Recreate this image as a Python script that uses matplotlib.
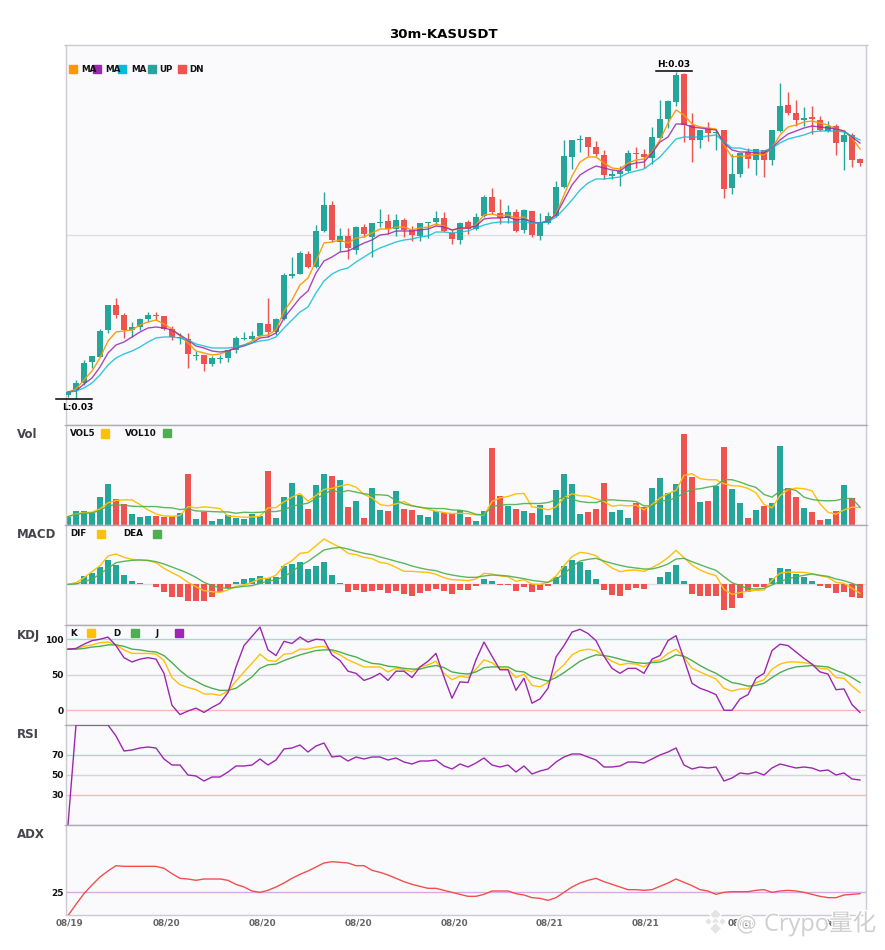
# 30m KASUSDT candles with Vol, MACD, KDJ, RSI and ADX panels
import matplotlib
matplotlib.use("Agg")
import matplotlib.pyplot as plt
import matplotlib.patheffects as pe
import numpy as np

# prices are in 1e-5 USDT
opens = [2840,2845,2852,2873,2878,2905,2930,2920,2905,2908,2916,2920,2919,2906,2897,2896,2879,2880,2871,2876,
         2877,2885,2896,2896,2899,2911,2903,2916,2959,2961,2981,2968,3004,3030,2993,2999,2985,3008,2998,3012,
         3014,3006,3015,3005,2999,3012,3013,3017,3002,2995,3013,3006,3019,3038,3022,3017,3023,3005,3024,2999,
         3012,3019,3048,3078,3095,3098,3088,3080,3059,3061,3064,3082,3081,3077,3097,3116,3133,3161,3110,3095,
         3106,3102,3105,3047,3061,3083,3075,3085,3075,3104,3130,3122,3115,3118,3115,3104,3109,3093,3100,3076]
closes = [2843,2852,2872,2879,2904,2930,2920,2905,2908,2916,2920,2919,2906,2898,2898,2881,2880,2871,2877,2877,
          2885,2897,2897,2899,2912,2903,2916,2960,2961,2982,2968,3004,3030,2995,2999,2987,3008,3001,3012,3013,
          3006,3015,3005,3000,3012,3013,3017,3004,2996,3012,3006,3018,3038,3023,3017,3023,3004,3025,3000,3012,
          3019,3048,3079,3095,3096,3088,3081,3060,3061,3064,3082,3081,3078,3098,3116,3134,3160,3110,3095,3105,
          3102,3103,3046,3061,3082,3076,3086,3075,3105,3129,3122,3115,3117,3116,3105,3109,3092,3100,3075,3072]
highs = [2844,2855,2875,2879,2906,2930,2937,2922,2913,2917,2923,2923,2919,2909,2902,2902,2884,2880,2879,2880,
         2885,2899,2903,2904,2912,2937,2917,2962,2978,2984,2984,3010,3043,3034,3007,3007,3009,3011,3012,3026,
         3021,3021,3017,3009,3012,3013,3024,3023,3005,3013,3015,3022,3040,3047,3036,3030,3026,3026,3024,3022,
         3023,3054,3095,3095,3100,3098,3094,3085,3065,3069,3085,3088,3086,3108,3135,3135,3163,3162,3122,3105,
         3113,3106,3105,3081,3082,3087,3086,3085,3105,3152,3143,3135,3128,3129,3119,3114,3111,3105,3102,3077]
lows = [2838,2837,2850,2867,2878,2902,2917,2897,2898,2905,2913,2915,2905,2895,2891,2867,2875,2864,2869,2872,
        2873,2882,2895,2895,2899,2898,2900,2915,2957,2961,2967,2967,3003,2993,2984,2976,2981,2998,2978,3008,
        3001,2999,2998,2994,2994,2997,3010,3003,2991,2991,3001,3005,3018,3021,3011,3012,3003,3002,2998,2995,
        3011,3018,3047,3066,3083,3079,3079,3056,3056,3049,3063,3067,3067,3071,3096,3107,3129,3093,3073,3087,
        3094,3085,3037,3041,3058,3067,3060,3058,3070,3103,3120,3109,3109,3101,3104,3103,3080,3065,3068,3069]
ma_fast = [2843,2846,2855,2864,2877,2894,2903,2904,2905,2910,2913,2915,2911,2906,2899,2892,2884,2882,2880,2881,
           2884,2888,2890,2894,2899,2900,2905,2924,2935,2950,2957,2974,2992,2993,2995,2992,2997,2998,3002,3006,
           3006,3008,3008,3005,3007,3008,3011,3009,3005,3006,3007,3010,3020,3021,3019,3020,3017,3018,3012,3012,
           3014,3021,3040,3059,3073,3078,3078,3072,3067,3066,3072,3075,3076,3083,3095,3112,3125,3120,3111,3108,
           3107,3106,3090,3078,3079,3079,3081,3080,3087,3100,3108,3110,3113,3114,3112,3110,3106,3104,3097,3086]
ma_mid = [2843,2844,2851,2857,2868,2882,2890,2893,2898,2903,2907,2908,2907,2905,2900,2895,2889,2887,2884,2883,
          2884,2887,2889,2892,2897,2898,2902,2917,2927,2937,2944,2962,2974,2978,2983,2984,2988,2992,2995,3000,
          3001,3004,3004,3004,3005,3006,3009,3008,3005,3007,3007,3009,3016,3017,3017,3018,3015,3016,3013,3012,
          3014,3020,3035,3050,3060,3065,3069,3067,3065,3064,3070,3072,3073,3082,3093,3098,3111,3111,3108,3107,
          3106,3105,3092,3085,3083,3083,3082,3082,3087,3095,3101,3104,3107,3109,3108,3107,3106,3104,3098,3092]
ma_slow = [2843,2844,2847,2852,2860,2870,2877,2881,2884,2888,2893,2897,2898,2898,2897,2895,2891,2889,2887,2887,
           2887,2888,2890,2892,2894,2895,2898,2907,2915,2923,2928,2942,2954,2961,2965,2967,2973,2978,2983,2987,
           2990,2993,2995,2996,2998,2999,3003,3003,3002,3003,3004,3007,3010,3012,3013,3013,3013,3013,3012,3012,
           3013,3018,3026,3035,3045,3052,3056,3056,3057,3058,3062,3064,3066,3072,3078,3087,3096,3098,3098,3098,
           3099,3100,3093,3087,3087,3085,3084,3084,3087,3092,3096,3098,3100,3103,3104,3104,3104,3103,3099,3095]
volume = [25,43,43,37,82,121,76,64,34,25,28,28,25,27,37,151,19,40,13,19,
          31,22,19,34,28,160,22,82,124,88,49,118,151,145,133,55,73,22,109,46,
          43,100,49,46,31,25,43,35,37,44,25,13,43,229,85,58,49,43,37,61,
          31,103,151,121,34,40,49,124,40,46,22,67,55,109,139,94,121,271,142,70,
          73,115,232,106,67,22,46,58,67,235,109,82,52,40,16,19,43,118,79,1]
vol5 = [25,33,37,38,48,66,73,75,75,61,45,33,27,26,28,55,51,54,52,49,
        27,25,23,24,26,51,52,69,83,94,71,88,106,109,116,121,113,91,81,61,
        57,63,70,58,53,47,41,37,34,35,34,30,29,70,81,85,93,94,54,51,
        45,54,81,93,87,86,78,70,56,59,57,59,45,61,80,94,103,148,153,138,
        135,135,123,117,116,109,96,61,51,88,105,110,108,102,63,38,32,45,53,52]
vol10 = [25,32,35,36,43,58,60,59,56,55,55,55,52,51,46,48,42,41,40,39,
         39,35,38,37,38,40,40,45,56,61,65,79,91,105,96,103,98,93,90,90,
         88,73,63,57,53,50,49,49,45,44,40,32,30,55,59,61,61,64,64,64,
         67,75,83,77,70,67,67,74,75,73,72,70,57,57,71,74,81,96,106,108,
         113,117,135,135,128,119,112,91,83,101,108,103,83,76,73,72,73,79,79,53]
macd_hist = [0,5,25,33,52,73,58,28,10,3,0,-8,-23,-38,-38,-50,-50,-50,-38,-24,
             -12,7,15,19,25,19,22,55,61,67,46,55,67,28,4,-23,-17,-23,-20,-17,
             -26,-20,-29,-35,-26,-20,-14,-20,-29,-17,-17,-5,16,10,-1,-1,-20,-8,-23,-17,
             -5,22,55,73,67,43,16,-17,-32,-35,-17,-11,-14,0,22,37,58,10,-29,-35,
             -35,-35,-77,-71,-41,-23,-8,-8,19,49,46,31,22,10,-5,-11,-26,-23,-38,-41]
dif = [0,5,20,38,56,85,91,81,75,73,71,65,48,35,23,6,-7,-19,-22,-24,
       -17,-6,-2,6,17,18,27,57,71,93,96,116,136,123,111,93,89,81,77,66,
       62,51,39,39,37,36,30,20,14,13,11,16,33,31,25,23,9,14,1,0,
       6,25,56,83,96,93,86,66,49,38,42,43,39,50,63,80,102,80,58,43,
       33,26,-15,-30,-25,-20,-18,-17,13,33,37,36,36,32,26,21,6,3,-12,-27]
dea = [0,1,9,15,31,48,65,69,72,73,72,68,61,52,43,33,21,6,-4,-10,
       -12,-9,-6,-4,3,10,13,23,38,56,69,86,103,108,111,106,99,93,89,82,
       76,69,63,55,49,44,41,33,28,24,21,21,25,28,27,25,21,17,12,9,
       6,16,31,53,70,75,78,70,63,57,52,49,46,46,52,61,76,78,68,59,
       50,42,23,5,-4,-13,-14,-12,-2,9,16,23,27,31,27,24,16,11,3,-6]
kdj_k = [86,86,90,92,95,96,92,85,80,80,80,79,70,46,36,32,29,23,23,21,
         27,41,54,66,79,70,69,79,80,86,86,89,90,83,78,71,66,61,61,61,
         54,59,57,54,61,64,69,52,43,48,46,58,71,67,58,58,46,51,35,33,
         39,54,64,78,84,86,84,76,69,64,66,65,61,69,71,80,86,75,59,54,
         49,44,31,27,30,30,39,43,58,65,68,68,67,65,59,58,46,45,34,25]
kdj_d = [86,86,87,89,90,92,92,90,86,85,83,82,77,67,56,47,41,35,31,28,
         28,31,39,47,59,64,65,70,74,78,81,84,85,85,82,78,75,70,66,65,
         62,61,59,58,58,61,63,60,54,52,51,54,60,61,61,61,55,54,47,44,
         41,46,53,61,69,74,78,77,75,72,69,67,66,67,68,72,78,76,70,63,
         57,52,45,39,37,34,35,38,46,53,58,61,62,63,62,61,56,52,46,39]
kdj_j = [86,87,93,98,100,103,91,74,68,72,74,72,52,7,-6,-1,3,-3,4,10,
         25,61,91,104,117,85,77,97,94,103,96,100,99,78,70,55,52,42,46,52,
         42,55,55,46,61,69,80,47,17,40,39,71,96,76,57,57,28,45,10,16,
         31,75,91,110,114,108,98,76,59,52,59,59,52,72,77,98,105,72,38,31,
         27,22,0,0,16,22,45,52,84,93,91,82,73,65,54,51,29,30,8,-3]
rsi = [0,100,100,100,100,100,89,74,75,77,78,77,66,60,60,50,49,44,48,48,
       53,59,59,60,66,60,65,76,77,80,73,79,82,68,69,64,68,66,68,68,
       65,67,63,61,64,64,65,59,56,61,58,62,67,60,58,60,53,59,51,54,
       56,63,68,71,71,68,65,58,58,59,63,63,62,66,70,73,77,60,56,58,
       57,58,44,47,52,51,53,50,57,61,59,57,58,57,54,55,50,52,46,45]
adx = [7.5,16,24,30.5,36.5,41,45,44.5,44.5,44.5,44.5,44.5,43,39,35.5,35,34,35,35,35,
       34,31,29,26,25,26.5,29,32,35.5,38.5,41,44,47,48,47.5,47,45,45,41.5,40,
       38,35.5,33,31,29.5,28,28,26.5,25,23.5,22,22,23.5,26,26,26,24,23,21,20.5,
       19,21,25,29,32,34,35.5,33,31,29,27,27,26.5,27,29.5,32,35,32.5,30,27,
       26,23.5,25,25.5,25.5,25.5,26.5,27,25,26,26.5,26,25,23.5,22,21,21,23,23.5,24]
tick_labels = ["08/19", "08/20", "08/20", "08/20", "08/20", "08/21", "08/21", "08/21", "08/21"]

UP = "#26a69a"
DOWN = "#ef5350"
ORANGE = "#ff9800"
PURPLE = "#9c27b0"
CYAN = "#00bcd4"
YELLOW = "#ffc107"
GREEN = "#4caf50"
W, H = 885, 950
LEFT, RIGHT = 65.5, 866

x = np.arange(len(opens))
o = np.array(opens) / 1e5
c = np.array(closes) / 1e5
h = np.array(highs) / 1e5
l = np.array(lows) / 1e5
colors = [UP if cl >= op else DOWN for op, cl in zip(o, c)]


def panel(top, bottom, ylim, edge="#ababb3"):
    ax = fig.add_axes([LEFT / W, 1 - bottom / H, (RIGHT - LEFT) / W, (bottom - top) / H],
                      facecolor="#fafafc")
    ax.set_xlim(-0.31, 99.75)
    ax.set_ylim(*ylim)
    ax.set_xticks([])
    ax.set_yticks([])
    for s in ax.spines.values():
        s.set_color("#cacad0")
        s.set_linewidth(1)
    ax.spines["top"].set_color(edge)
    ax.tick_params(axis="y", length=0, labelsize=6.5, pad=1.2)
    ax.tick_params(axis="y", which="minor", length=1.5, left=True, right=True, color="#aaaaaa")
    ax.set_yticks([ylim[1]], minor=True)
    ax.set_yticklabels([], minor=True)
    return ax


def legend_item(px, py, label, color=None, text_px=None):
    # little square and bold label, given in figure pixels
    if color:
        fig.patches.append(plt.Rectangle((px / W, 1 - (py + 4) / H), 8 / W, 8 / H, color=color,
                                         transform=fig.transFigure, zorder=5))
    if label:
        fig.text(text_px / W, 1 - py / H, label, fontsize=6.3, fontweight="bold", va="center",
                 color="#111111", zorder=6)


def side_label(py, name):
    fig.text(17 / W, 1 - py / H, name, fontsize=8.5, fontweight="bold", va="center", color="#44444c")


def set_levels(ax, levels, colors_):
    ax.set_yticks(levels)
    ax.set_yticklabels([f"{v}" for v in levels], fontweight="bold", color="#111111")
    for v, col in zip(levels, colors_):
        ax.axhline(v, color=col, lw=1, zorder=1)


fig = plt.figure(figsize=(W / 100, H / 100), dpi=100, facecolor="white")
fig.text(443 / W, 1 - 34.5 / H, "30m-KASUSDT", fontsize=9.5, fontweight="bold", ha="center", va="center")

# candles
ax_k = panel(45, 425, (0.0281, 0.0319), edge="#cacad0")
ax_k.axhline(0.03, color="#dedee2", lw=1, zorder=1)
ax_k.vlines(x, l, h, color=colors, lw=1, zorder=2)
ax_k.bar(x, np.abs(c - o), bottom=np.minimum(o, c), width=0.76, color=colors, zorder=3)
ax_k.plot(x, np.array(ma_fast) / 1e5, color=ORANGE, lw=1, alpha=0.95, zorder=4)
ax_k.plot(x, np.array(ma_mid) / 1e5, color=PURPLE, lw=1, alpha=0.85, zorder=4)
ax_k.plot(x, np.array(ma_slow) / 1e5, color=CYAN, lw=1, alpha=0.8, zorder=4)

# high and low marks
hi = int(np.argmax(h))
lo = int(np.argmin(l))
ax_k.plot([hi - 2.5, hi + 2], [h[hi] + 0.00001] * 2, color="black", lw=1.1, clip_on=False, zorder=6)
ax_k.plot([lo - 2.5, lo + 2], [l[lo] - 0.00001] * 2, color="black", lw=1.1, clip_on=False, zorder=6)
ax_k.annotate("H:0.03", (hi - 0.25, h[hi]), xytext=(0, 7), textcoords="offset pixels", ha="center",
              va="center", fontsize=6.5, fontweight="bold")
ax_k.annotate("L:0.03", (lo + 0.25, l[lo]), xytext=(0, -10), textcoords="offset pixels", ha="center",
              va="center", fontsize=6.5, fontweight="bold")

# volume
ax_v = panel(425, 525, (0, 298))
ax_v.bar(x, volume, width=0.76, color=colors, zorder=2)
ax_v.plot(x, vol5, color=YELLOW, lw=1, zorder=3)
ax_v.plot(x, vol10, color=GREEN, lw=1, alpha=0.9, zorder=3)

# macd
ax_m = panel(525, 625, (-122, 178))
ax_m.axhline(0, color="#dedee2", lw=1, zorder=1)
ax_m.bar(x, macd_hist, width=0.76, color=[UP if v > 0 else DOWN for v in macd_hist], zorder=2)
ax_m.plot(x, dif, color=YELLOW, lw=1, zorder=3)
ax_m.plot(x, dea, color=GREEN, lw=1, alpha=0.9, zorder=3)

# kdj
ax_j = panel(625, 725, (-20.7, 120))
set_levels(ax_j, [0, 50, 100], ["#ffb7b5", "#d4d4d8", "#a3d9d3"])
ax_j.plot(x, kdj_k, color=YELLOW, lw=1, zorder=3)
ax_j.plot(x, kdj_d, color=GREEN, lw=1, zorder=3)
ax_j.plot(x, kdj_j, color=PURPLE, lw=1, zorder=4)

# rsi
ax_r = panel(725, 825, (0, 100))
set_levels(ax_r, [30, 50, 70], ["#ffb7b5", "#d4d4d8", "#a3d9d3"])
ax_r.plot(x, rsi, color=PURPLE, lw=1, zorder=3)

# adx
ax_a = panel(825, 915, (8, 75.5))
set_levels(ax_a, [25], ["#dba8e8"])
ax_a.plot(x, adx, color="#f0504d", lw=1, zorder=3)
ax_a.set_xticks(np.arange(len(tick_labels)) * 12 + 0.25)
ax_a.set_xticklabels(tick_labels, fontsize=6.4, fontweight="bold", color="#666666")
ax_a.tick_params(axis="x", length=0, pad=2.5)

# legends
for px, col, tx, lab in [(69, ORANGE, 81, "MA"), (93, PURPLE, 105, "MA"), (118, CYAN, 131, "MA"),
                         (148, UP, 159, "UP"), (178, DOWN, 189, "DN")]:
    legend_item(px, 69, lab, col, tx)
legend_item(101, 433.5, "VOL5", YELLOW, 70)
legend_item(163, 433, "VOL10", GREEN, 125)
legend_item(97, 534, "DIF", YELLOW, 70)
legend_item(153, 533.5, "DEA", GREEN, 123)
legend_item(87, 633, "K", YELLOW, 70)
legend_item(131, 633, "D", GREEN, 113)
legend_item(175, 633, "J", PURPLE, 156)

for py, name in [(435, "Vol"), (535, "MACD"), (635, "KDJ"), (735, "RSI"), (835, "ADX")]:
    side_label(py, name)

# watermark sits over the last tick labels
halo = [pe.withStroke(linewidth=2, foreground="white")]
fig.text(736 / W, 1 - 924 / H, "@", fontsize=15, color="#cfcfcf", va="center", zorder=20, path_effects=halo)
fig.text(764 / W, 1 - 924 / H, "Crypo量化", fontsize=17, color="#cfcfcf", va="center", zorder=20,
         family=["Open Sans", "Noto Sans CJK SC"], path_effects=halo)
for dx, dy, size in [(0, -7, 6), (-7, 0, 4), (7, 0, 4), (0, 0, 4), (0, 7, 6)]:
    fig.add_artist(plt.Line2D([(715 + dx) / W], [1 - (921 + dy) / H], marker="D", markersize=size,
                              mfc="#e4e4e4", mec="white", mew=0.8, transform=fig.transFigure, zorder=19))

fig.savefig("out.png", dpi=100)
